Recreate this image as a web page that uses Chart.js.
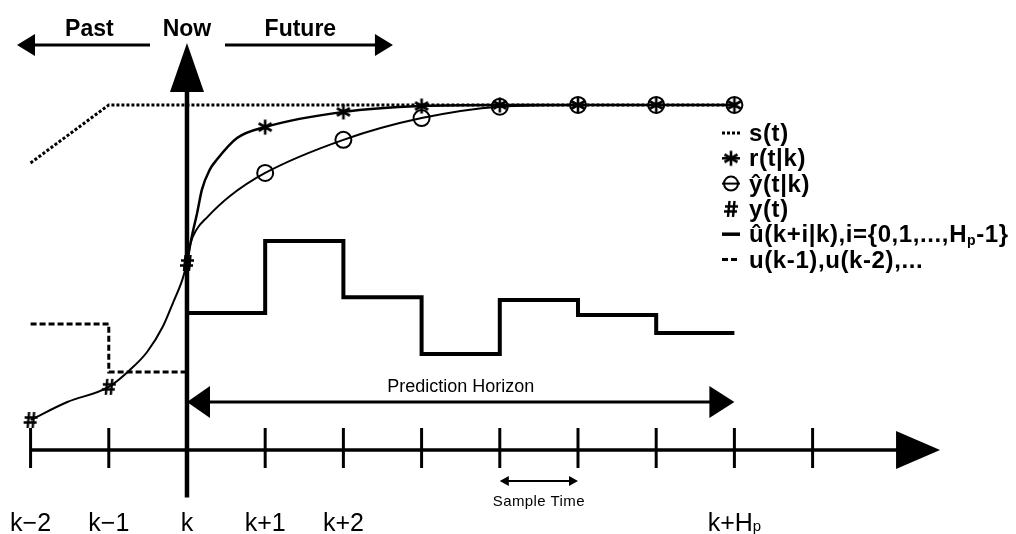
<!DOCTYPE html>
<html>
<head>
<meta charset="utf-8">
<script src="https://cdn.jsdelivr.net/npm/chart.js@4.4.1/dist/chart.umd.min.js"></script>
<style>
  html, body { margin: 0; padding: 0; background: #fff; }
  #wrap { width: 1016px; height: 534px; }
</style>
</head>
<body>
<div id="wrap"><canvas id="mpc" width="1016" height="534"></canvas></div>
<script>
// Sample instants on the time axis, in steps relative to k
var tickSteps = [-2, -1, 0, 1, 2, 3, 4, 5, 6, 7, 8];
var tickLabels = ['k\u22122', 'k\u22121', 'k', 'k+1', 'k+2', '', '', '', '', 'k+H_p', ''];

// Setpoint s(t)
var setpointX = [-2, -1, 7];
var setpointY = [0.832, 1.0, 1.0];

// Reference trajectory r(t|k)
var refX = [0, 0.06, 0.13, 0.19, 0.29, 0.38, 0.64, 1, 2, 3, 4, 5, 6, 7];
var refY = [0.542, 0.617, 0.687, 0.754, 0.812, 0.841, 0.904, 0.936, 0.980, 0.997, 1.0, 1.0, 1.0, 1.0];

// Predicted output y^(t|k)
var predX = [0, 0.04, 0.12, 0.26, 0.55, 1, 2, 3, 4, 5, 6, 7];
var predY = [0.542, 0.595, 0.638, 0.675, 0.736, 0.803, 0.899, 0.962, 0.995, 1.0, 1.0, 1.0];

// Measured output y(t)
var outX = [-2, -1.53, -1, -0.73, -0.51, -0.31, -0.18, -0.06, 0];
var outY = [0.087, 0.139, 0.183, 0.232, 0.284, 0.357, 0.426, 0.493, 0.542];

// Past inputs u(k-1), u(k-2)
var uPastX = [-2, -1, 0];
var uPastY = [0.365, 0.226, 0.226];

// Planned inputs u^(k+i|k)
var uPlanX = [0, 1, 2, 3, 4, 5, 6, 7];
var uPlanY = [0.397, 0.606, 0.443, 0.278, 0.435, 0.391, 0.339, 0.339];

var FONT = '"Liberation Sans", Arial, sans-serif';

function pts(xs, ys) {
    return xs.map(function(x, i) { return {x: x, y: ys[i]}; });
}

// markers only on whole sample instants
function markAt(from, r) {
    return function(c) {
        var x = c.raw ? c.raw.x : NaN;
        return (x === Math.round(x) && x >= from) ? r : 0;
    };
}

// '#' symbol used for the measured samples
function hashMarker() {
    var c = document.createElement('canvas');
    c.width = 16; c.height = 18;
    var g = c.getContext('2d');
    g.strokeStyle = '#000';
    g.lineWidth = 2.4;
    g.beginPath();
    g.moveTo(6.5, 1); g.lineTo(5, 17);
    g.moveTo(11.5, 1); g.lineTo(10, 17);
    g.moveTo(2, 6.5); g.lineTo(15, 6.5);
    g.moveTo(1, 11.5); g.lineTo(14, 11.5);
    g.stroke();
    return c;
}

// six-armed asterisk for the reference samples
function asteriskMarker() {
    var c = document.createElement('canvas');
    c.width = 18; c.height = 18;
    var g = c.getContext('2d');
    g.strokeStyle = '#000';
    g.lineWidth = 2.6;
    g.beginPath();
    [90, 30, 150].forEach(function(a) {
        var r = a * Math.PI / 180, dx = Math.cos(r) * 7.5, dy = Math.sin(r) * 7.5;
        g.moveTo(9 - dx, 9 - dy);
        g.lineTo(9 + dx, 9 + dy);
    });
    g.stroke();
    return c;
}
var hash = hashMarker();
var aster = asteriskMarker();

// text with "_x" subscripts
function richText(ctx, str, x, y, size, weight, align, spacing, subDrop) {
    var parts = [];
    var re = /_(.)/g, last = 0, m;
    while ((m = re.exec(str)) !== null) {
        if (m.index > last) parts.push({t: str.slice(last, m.index), sub: false});
        parts.push({t: m[1], sub: true});
        last = re.lastIndex;
    }
    if (last < str.length) parts.push({t: str.slice(last), sub: false});
    ctx.letterSpacing = (spacing || 0) + 'px';
    var w = 0;
    parts.forEach(function(p) {
        ctx.font = weight + ' ' + (p.sub ? Math.round(size * 0.6) : size) + 'px ' + FONT;
        p.w = ctx.measureText(p.t).width;
        w += p.w;
    });
    var cx = align === 'center' ? x - w / 2 : (align === 'right' ? x - w : x);
    var drop = subDrop === undefined ? size * 0.12 : subDrop;
    ctx.textAlign = 'left';
    ctx.textBaseline = 'alphabetic';
    parts.forEach(function(p) {
        ctx.font = weight + ' ' + (p.sub ? Math.round(size * 0.6) : size) + 'px ' + FONT;
        ctx.fillText(p.t, cx, p.sub ? y + drop : y);
        cx += p.w;
    });
    ctx.letterSpacing = '0px';
}

function head(ctx, tipX, tipY, dx, dy, len, half) {
    // dx,dy: unit direction of the arrow
    var bx = tipX - dx * len, by = tipY - dy * len;
    ctx.beginPath();
    ctx.moveTo(tipX, tipY);
    ctx.lineTo(bx - dy * half, by + dx * half);
    ctx.lineTo(bx + dy * half, by - dx * half);
    ctx.closePath();
    ctx.fill();
}

function line(ctx, x1, y1, x2, y2, w) {
    ctx.lineWidth = w;
    ctx.beginPath();
    ctx.moveTo(x1, y1);
    ctx.lineTo(x2, y2);
    ctx.stroke();
}

var decor = {
    id: 'mpcDecor',
    beforeDatasetsDraw: function(chart) {
        var ctx = chart.ctx, sx = chart.scales.x, sy = chart.scales.y;
        var X = function(v) { return sx.getPixelForValue(v); };
        var Y = function(v) { return sy.getPixelForValue(v); };
        ctx.save();
        ctx.strokeStyle = '#000';
        ctx.fillStyle = '#000';
        ctx.lineCap = 'butt';

        // time axis with ticks
        var ay = Y(0);
        line(ctx, X(-2), ay, X(9.1), ay, 3.5);
        head(ctx, X(9.63), ay, 1, 0, 44, 19);
        tickSteps.forEach(function(s) {
            line(ctx, X(s), ay - 22, X(s), ay + 18, 3);
        });

        // "Now" axis
        line(ctx, X(0), Y(-0.138), X(0), Y(1.05), 4.5);
        head(ctx, X(0), Y(1.18), 0, -1, 49, 17);
        ctx.restore();
    },
    afterDatasetsDraw: function(chart) {
        var ctx = chart.ctx, sx = chart.scales.x, sy = chart.scales.y;
        var X = function(v) { return sx.getPixelForValue(v); };
        var Y = function(v) { return sy.getPixelForValue(v); };
        ctx.save();
        ctx.strokeStyle = '#000';
        ctx.fillStyle = '#000';

        // Past / Now / Future
        var ty = Y(1.174);
        line(ctx, X(-2.0), ty, X(-0.473), ty, 3);
        head(ctx, X(-2.174), ty, -1, 0, 18, 11);
        line(ctx, X(0.486), ty, X(2.45), ty, 3);
        head(ctx, X(2.634), ty, 1, 0, 18, 11);
        richText(ctx, 'Past', X(-1.248), Y(1.2), 23, 'bold', 'center');
        richText(ctx, 'Now', X(0), Y(1.2), 23, 'bold', 'center');
        richText(ctx, 'Future', X(1.45), Y(1.2), 23, 'bold', 'center');

        // prediction horizon
        var hy = Y(0.139);
        line(ctx, X(0.2), hy, X(6.8), hy, 3);
        head(ctx, X(0), hy, -1, 0, 23, 16);
        head(ctx, X(7), hy, 1, 0, 25, 16);
        richText(ctx, 'Prediction Horizon', X(3.5), Y(0.168), 18, 'normal', 'center');

        // sample time
        var sy2 = Y(-0.09);
        line(ctx, X(4.08), sy2, X(4.92), sy2, 2);
        head(ctx, X(4), sy2, -1, 0, 9, 5);
        head(ctx, X(5), sy2, 1, 0, 9, 5);
        richText(ctx, 'Sample Time', X(4.5), Y(-0.163), 15, 'normal', 'center', 0.4);

        // tick labels
        tickLabels.forEach(function(t, i) {
            if (t) richText(ctx, t, X(tickSteps[i]), Y(-0.236), 25, 'normal', 'center', 0, 0);
        });

        // legend
        var lx = chart.chartArea.right - 294, ly = 133, dy = 25.3;
        var entries = [
            {ds: 0, text: 's(t)'},
            {ds: 1, text: 'r(t|k)'},
            {ds: 2, text: '\u0177(t|k)'},
            {ds: 3, text: 'y(t)'},
            {ds: 5, text: '\u00fb(k+i|k),i={0,1,...,H_p-1}'},
            {ds: 4, text: 'u(k-1),u(k-2),...'}
        ];
        entries.forEach(function(e, n) {
            var d = chart.data.datasets[e.ds];
            var y = ly + n * dy;
            ctx.save();
            ctx.setLineDash(d.borderDash || []);
            if (e.ds !== 3) line(ctx, lx, y, lx + 18, y, Math.min(d.borderWidth, 3.5));
            ctx.restore();
            if (d.legendMarker) {
                ctx.save();
                ctx.fillStyle = 'rgba(0,0,0,0)';
                ctx.lineWidth = d.pointBorderWidth;
                Chart.helpers.drawPoint(ctx, {pointStyle: d.pointStyle, radius: 7,
                    rotation: 0, borderWidth: d.pointBorderWidth}, lx + 9, y);
                ctx.restore();
            }
            richText(ctx, e.text, lx + 27, y + 8, 24, 'bold', 'left', 0.6);
        });
        ctx.restore();
    }
};

new Chart(document.getElementById('mpc'), {
    type: 'line',
    data: {
        datasets: [
            {label: 's(t)', data: pts(setpointX, setpointY), borderColor: '#000',
             borderWidth: 3, borderDash: [3, 2], pointRadius: 0, tension: 0},
            {label: 'r(t|k)', data: pts(refX, refY), borderColor: '#000', borderWidth: 2.5,
             cubicInterpolationMode: 'monotone', pointStyle: aster, pointBorderColor: '#000',
             pointBorderWidth: 2.5, pointRadius: markAt(1, 8), legendMarker: true},
            {label: '\u0177(t|k)', data: pts(predX, predY), borderColor: '#000', borderWidth: 2,
             cubicInterpolationMode: 'monotone', pointStyle: 'circle', pointBorderColor: '#000',
             pointBackgroundColor: 'rgba(0,0,0,0)', pointBorderWidth: 2,
             pointRadius: markAt(1, 8), legendMarker: true},
            {label: 'y(t)', data: pts(outX, outY), borderColor: '#000', borderWidth: 2,
             cubicInterpolationMode: 'monotone', pointStyle: hash, pointBorderWidth: 2,
             pointRadius: markAt(-2, 8), legendMarker: true},
            {label: 'u(k-1),u(k-2),...', data: pts(uPastX, uPastY), borderColor: '#000',
             borderWidth: 3, borderDash: [6, 3], stepped: 'before', pointRadius: 0},
            {label: '\u00fb(k+i|k)', data: pts(uPlanX, uPlanY), borderColor: '#000',
             borderWidth: 4, stepped: 'before', pointRadius: 0}
        ]
    },
    options: {
        responsive: false,
        devicePixelRatio: 1,
        animation: false,
        events: [],
        layout: {padding: 0, autoPadding: false},
        clip: false,
        plugins: {legend: {display: false}, tooltip: {enabled: false}},
        scales: {
            x: {type: 'linear', min: -2.391, max: 10.601, display: false},
            y: {type: 'linear', min: -0.2435, max: 1.3043, display: false}
        }
    },
    plugins: [decor]
});
</script>
</body>
</html>
